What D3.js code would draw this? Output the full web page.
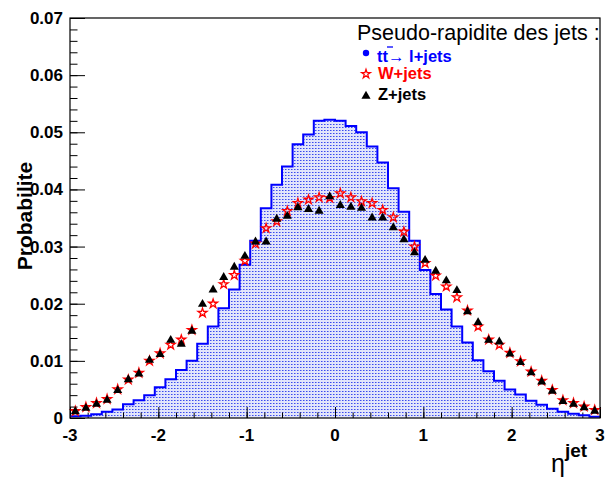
<!DOCTYPE html>
<html>
<head>
<meta charset="utf-8">
<script src="https://cdn.jsdelivr.net/npm/d3@7/dist/d3.min.js"></script>
<style>
  html, body { margin: 0; padding: 0; background: #fff; }
  svg { display: block; }
  text { font-family: "Liberation Sans", Arial, sans-serif; }
</style>
</head>
<body>
<svg id="chart" width="605" height="479"></svg>
<script>
// Jet pseudo-rapidity, 50 bins from -3 to 3
const etaMin = -3, etaMax = 3, nBins = 50;

// ttbar -> l+jets (histogram)
const ttbar = [
  0.0003, 0.0004, 0.00065, 0.0011, 0.0015, 0.0024, 0.0031, 0.0040, 0.0054, 0.0068,
  0.0084, 0.0100, 0.0130, 0.0160, 0.0192, 0.0225, 0.0268, 0.0310, 0.0367, 0.0408,
  0.0440, 0.0479, 0.0496, 0.0520, 0.0522, 0.0520, 0.0511, 0.0500, 0.0475, 0.0447,
  0.0402, 0.0361, 0.0310, 0.0259, 0.0217, 0.0190, 0.0160, 0.0132, 0.0101, 0.0082,
  0.0065, 0.0050, 0.0041, 0.0030, 0.0023, 0.0016, 0.0011, 0.00075, 0.0005, 0.0002
];

// W+jets (open stars)
const wjets = [
  0.0012, 0.0019, 0.0026, 0.0033, 0.0050, 0.0067, 0.0079, 0.0100, 0.0113, 0.0128,
  0.0137, 0.0154, 0.0184, 0.0200, 0.0234, 0.0250, 0.0275, 0.0305, 0.0332, 0.0344,
  0.0362, 0.0376, 0.0382, 0.0386, 0.0385, 0.0393, 0.0386, 0.0379, 0.0376, 0.0364,
  0.0351, 0.0326, 0.0300, 0.0271, 0.0249, 0.0230, 0.0211, 0.0188, 0.0160, 0.0137,
  0.0128, 0.0114, 0.0099, 0.0081, 0.0065, 0.0049, 0.0031, 0.0026, 0.0020, 0.0014
];

// Z+jets (filled triangles)
const zjets = [
  0.0013, 0.0019, 0.0026, 0.0033, 0.0050, 0.0069, 0.0079, 0.0103, 0.0113, 0.0138,
  0.0131, 0.0154, 0.0201, 0.0226, 0.0248, 0.0266, 0.0285, 0.0310, 0.0310, 0.0350,
  0.0355, 0.0370, 0.0367, 0.0364, 0.0389, 0.0374, 0.0371, 0.0369, 0.0352, 0.0352,
  0.0335, 0.0314, 0.0291, 0.0278, 0.0259, 0.0242, 0.0225, 0.0188, 0.0169, 0.0138,
  0.0135, 0.0114, 0.0099, 0.0081, 0.0065, 0.0049, 0.0031, 0.0026, 0.0020, 0.0014
];

const xTicks = [-3, -2, -1, 0, 1, 2, 3];
const yTicks = [0, 0.01, 0.02, 0.03, 0.04, 0.05, 0.06, 0.07];
const legendTitle = "Pseudo-rapidite des jets :";
const legendLabels = ["tt\u2192 l+jets", "W+jets", "Z+jets"];

const binW = (etaMax - etaMin) / nBins;
const binLow = d3.range(nBins).map(i => etaMin + i * binW);
const binCenter = binLow.map(v => v + binW / 2);

const svg = d3.select("#chart");
const L = 70, R = 600, T = 18, B = 418;

const x = d3.scaleLinear().domain([etaMin, etaMax]).range([L, R]);
const y = d3.scaleLinear().domain([0, 0.07]).range([B, T]);

// dotted fill for the ttbar histogram
const defs = svg.append("defs");
const pat = defs.append("pattern").attr("id", "dots")
  .attr("patternUnits", "userSpaceOnUse").attr("width", 3).attr("height", 3);
pat.append("rect").attr("width", 3).attr("height", 3).attr("fill", "#e2e5fb");
pat.append("rect").attr("x", 0).attr("y", 1).attr("width", 1).attr("height", 1).attr("fill", "#3a4aee");
pat.append("rect").attr("x", 1).attr("y", 1).attr("width", 1).attr("height", 1).attr("fill", "#8c96f3");

// histogram as step path
const stepPts = [];
ttbar.forEach((v, i) => {
  stepPts.push([binLow[i], v]);
  stepPts.push([binLow[i] + binW, v]);
});
const line = d3.line().x(d => x(d[0])).y(d => y(d[1]));
const area = d3.area().x(d => x(d[0])).y0(y(0)).y1(d => y(d[1]));

svg.append("path").attr("d", area(stepPts)).attr("fill", "url(#dots)");

// axis ticks, drawn inside the frame
const yMajor = d3.axisRight(y).tickValues(yTicks).tickSize(15).tickFormat("");
const yMinor = d3.axisRight(y).tickValues(d3.range(0, 0.0701, 0.002)).tickSize(7.5).tickFormat("");
const xMajor = d3.axisTop(x).tickValues(xTicks).tickSize(11).tickFormat("");
const xMinor = d3.axisTop(x).tickValues(d3.range(-3, 3.001, 0.2)).tickSize(5.5).tickFormat("");

[[yMinor, `translate(${L},0)`], [yMajor, `translate(${L},0)`],
 [xMinor, `translate(0,${B})`], [xMajor, `translate(0,${B})`]].forEach(([ax, tr]) => {
  const g = svg.append("g").attr("transform", tr).call(ax);
  g.select(".domain").remove();
  g.selectAll("line").attr("stroke", "#000").attr("stroke-width", 1);
});

svg.append("path").attr("d", line(stepPts))
  .attr("fill", "none").attr("stroke", "#0000ff").attr("stroke-width", 2);

// markers
const star = d3.symbol().type(d3.symbolStar).size(25);
const tri = d3.symbol().type(d3.symbolTriangle).size(36);

svg.append("g").selectAll("path").data(wjets).join("path")
  .attr("transform", (d, i) => `translate(${x(binCenter[i])},${y(d)})`)
  .attr("d", star()).attr("fill", "none").attr("stroke", "#ff0000").attr("stroke-width", 1.3);

svg.append("g").selectAll("path").data(zjets).join("path")
  .attr("transform", (d, i) => `translate(${x(binCenter[i])},${y(d) + 1})`)
  .attr("d", tri()).attr("fill", "#000");

// frame
svg.append("rect").attr("x", L).attr("y", T).attr("width", R - L).attr("height", B - T)
  .attr("fill", "none").attr("stroke", "#000").attr("stroke-width", 1.2);

// tick labels
svg.append("g").selectAll("text").data(yTicks).join("text")
  .attr("x", 63).attr("y", d => y(d) + 6)
  .attr("text-anchor", "end").attr("font-weight", "bold").attr("font-size", 17)
  .text(d => d === 0 ? "0" : d3.format(".2f")(d));

svg.append("g").selectAll("text").data(xTicks).join("text")
  .attr("x", d => x(d)).attr("y", 441)
  .attr("text-anchor", "middle").attr("font-weight", "bold").attr("font-size", 17)
  .text(d => d);

// axis titles
svg.append("text").attr("transform", "translate(32,216) rotate(-90)")
  .attr("text-anchor", "middle").attr("font-weight", "bold").attr("font-size", 21)
  .text("Probabilite");

const xt = svg.append("text").attr("x", 551).attr("y", 472).attr("font-size", 25);
xt.append("tspan").text("η");
xt.append("tspan").attr("dy", -15).attr("font-size", 19).attr("font-weight", "bold").text("jet");

// legend
const lg = svg.append("g");
lg.append("text").attr("x", 357).attr("y", 40).attr("font-size", 21.5).text(legendTitle);

lg.append("circle").attr("cx", 366).attr("cy", 53).attr("r", 3.2).attr("fill", "#0000ff");
lg.append("text").attr("x", 377).attr("y", 61.5).attr("font-size", 16.5)
  .attr("font-weight", "bold").attr("fill", "#0000ff").text(legendLabels[0]);
// bar over the second t
lg.append("line").attr("x1", 387).attr("x2", 393).attr("y1", 47).attr("y2", 47)
  .attr("stroke", "#0000ff").attr("stroke-width", 1.3);

lg.append("path").attr("transform", "translate(366,74)").attr("d", star())
  .attr("fill", "none").attr("stroke", "#ff0000").attr("stroke-width", 1.2);
lg.append("text").attr("x", 378).attr("y", 78.5).attr("font-size", 16.5)
  .attr("font-weight", "bold").attr("fill", "#ff0000").text(legendLabels[1]);

lg.append("path").attr("transform", "translate(366,96)").attr("d", tri())
  .attr("fill", "#000");
lg.append("text").attr("x", 378).attr("y", 99.5).attr("font-size", 16.5)
  .attr("font-weight", "bold").attr("fill", "#000").text(legendLabels[2]);
</script>
</body>
</html>
